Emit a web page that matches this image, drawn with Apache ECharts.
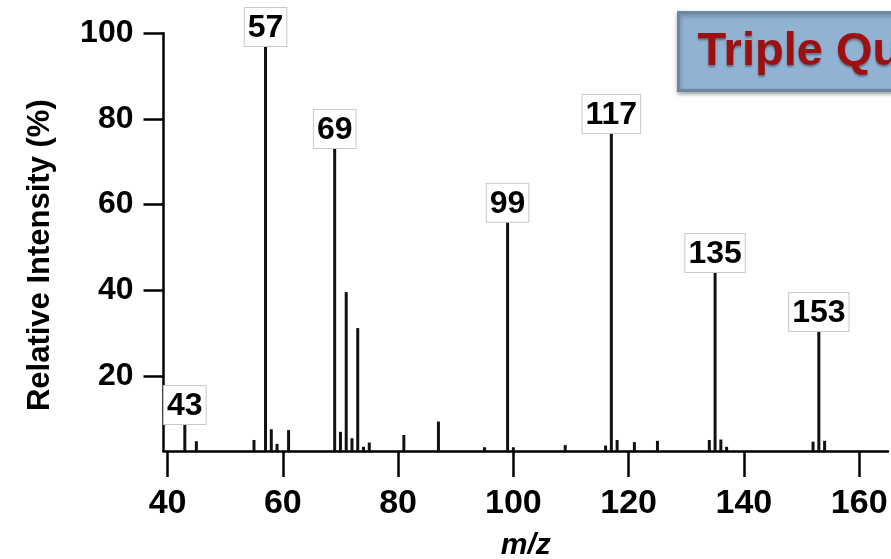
<!DOCTYPE html>
<html><head><meta charset="utf-8">
<script src="https://cdn.jsdelivr.net/npm/echarts@6/dist/echarts.min.js"></script>
<style>html,body{margin:0;padding:0;background:#fff}#c{width:891px;height:559px}</style>
</head><body><div id="c"></div>
<script>
// Labeled (major) peaks
const labeledMz  = [43, 57, 69, 99, 117, 135, 153];
const labeledInt = [8.8, 97, 73.2, 56, 76.7, 44.3, 30.5];
// Other peaks
const otherMz  = [45, 55, 58, 59, 61, 70, 71, 72, 73, 74, 75, 81, 87, 95, 100, 109, 116, 118, 121, 125, 134, 136, 137, 152, 154];
const otherInt = [4.8, 5.1, 7.6, 4.2, 7.4, 7.0, 39.6, 5.5, 31.2, 3.5, 4.5, 6.25, 9.4, 3.4, 3.4, 3.9, 3.8, 5.1, 4.6, 4.9, 5.1, 5.2, 3.5, 4.7, 4.9];
// Tick labels
const xTicks = [40, 60, 80, 100, 120, 140, 160];
const yTicks = [20, 40, 60, 80, 100];

const FONT = 'Liberation Sans';
const chart = echarts.init(document.getElementById('c'));
const option = {
  animation: false,
  backgroundColor: '#fff',
  grid: { left: 163.5, top: 33.2, width: 724.5, height: 417.9, containLabel: false, outerBoundsMode: 'none' },
  xAxis: {
    type: 'value', min: 39.3, max: 165,
    name: 'm/z', nameLocation: 'middle', nameGap: 80,
    nameTextStyle: { fontFamily: FONT, fontWeight: 'bold', fontStyle: 'italic', fontSize: 30, color: '#000' },
    axisLine: { show: true, onZero: false, lineStyle: { color: '#000', width: 2.5 } },
    axisTick: { show: true, customValues: xTicks, length: 26, lineStyle: { color: '#000', width: 2.5 } },
    axisLabel: { customValues: xTicks, margin: 36, fontSize: 34, fontWeight: 'bold', fontFamily: FONT, color: '#000' },
    splitLine: { show: false }
  },
  yAxis: {
    type: 'value', min: 2.5, max: 100,
    name: 'Relative Intensity (%)', nameLocation: 'middle', nameGap: 108, nameRotate: 90,
    nameTextStyle: { fontFamily: FONT, fontWeight: 'bold', fontSize: 31, color: '#000', padding: [0, 26, 0, 0] },
    axisLine: { show: true, lineStyle: { color: '#000', width: 2.5 } },
    axisTick: { show: true, customValues: yTicks, length: 20, lineStyle: { color: '#000', width: 2.5 } },
    axisLabel: { customValues: yTicks, margin: 30, fontSize: 32, fontWeight: 'bold', fontFamily: FONT, color: '#000' },
    splitLine: { show: false }
  },
  series: [
    {
      type: 'bar', barWidth: 3, barGap: '-100%',
      itemStyle: { color: '#111' },
      data: labeledMz.map((m, i) => [m, labeledInt[i]]),
      label: {
        show: true, position: 'top', distance: 0,
        formatter: p => String(p.value[0]),
        fontFamily: FONT, fontWeight: 'bold', fontSize: 32, color: '#000', lineHeight: 34,
        backgroundColor: '#fff', borderColor: '#c8c8c8', borderWidth: 1, padding: [3, 3, 1, 3]
      },
      z: 3
    },
    {
      type: 'bar', barWidth: 3, barGap: '-100%',
      itemStyle: { color: '#111' },
      data: otherMz.map((m, i) => [m, otherInt[i]]),
      z: 2
    }
  ],
  graphic: [
    {
      type: 'group', left: 677, top: 11, children: [
        { type: 'rect', shape: { x: 0, y: 0, width: 320, height: 78 },
          style: { fill: '#91b2d2', stroke: '#6b87a1', lineWidth: 3, shadowBlur: 4, shadowOffsetY: 2, shadowColor: 'rgba(0,0,0,0.3)' } },
        { type: 'text', x: 19, y: 40,
          style: { text: 'Triple Quadrupole', font: 'bold 47px "Liberation Sans"', fill: '#9c1010',
                   verticalAlign: 'middle', align: 'left',
                   textShadowColor: 'rgba(0,0,0,0.35)', textShadowBlur: 2, textShadowOffsetY: 2 } }
      ]
    }
  ]
};
chart.setOption(option);
</script></body></html>
